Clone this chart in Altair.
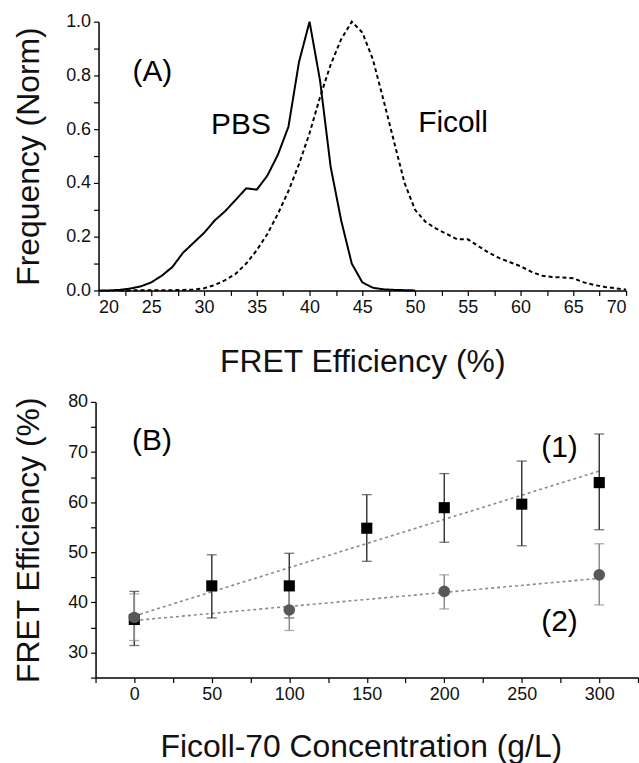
import altair as alt
import pandas as pd

FONT = "Liberation Sans"

# ---------------- Panel (A): normalised FRET histograms ----------------
eff_pbs = [20, 21, 22, 23, 24, 25, 26, 27, 28, 29, 30, 31, 32, 33, 34, 35,
           36, 37, 38, 39, 40, 41, 42, 43, 44, 45, 46, 47, 48, 49, 50]
freq_pbs = [0.0, 0.0, 0.002, 0.007, 0.015, 0.03, 0.055, 0.087, 0.14, 0.177,
            0.214, 0.26, 0.295, 0.337, 0.38, 0.375, 0.427, 0.505, 0.609, 0.85,
            1.0, 0.78, 0.46, 0.26, 0.10, 0.03, 0.01, 0.004, 0.002, 0.001, 0.0]

eff_ficoll = [22, 23, 24, 25, 26, 27, 28, 29, 30, 31, 32, 33, 34, 35, 36, 37,
              38, 39, 40, 41, 42, 43, 44, 45, 46, 47, 48, 49, 50, 51, 52, 53,
              54, 55, 56, 57, 58, 59, 60, 61, 62, 63, 64, 65, 66, 67, 68, 69, 70]
freq_ficoll = [0.0, 0.0, 0.001, 0.001, 0.001, 0.001, 0.002, 0.003, 0.008, 0.02,
               0.038, 0.062, 0.10, 0.15, 0.21, 0.285, 0.37, 0.47, 0.585, 0.72,
               0.84, 0.935, 1.0, 0.96, 0.86, 0.71, 0.555, 0.40, 0.30, 0.255,
               0.23, 0.21, 0.19, 0.19, 0.165, 0.14, 0.12, 0.105, 0.09, 0.07,
               0.055, 0.05, 0.048, 0.045, 0.03, 0.02, 0.013, 0.008, 0.003]

labels_a = ["(A)", "PBS", "Ficoll"]
labels_a_x = [25.1, 33.5, 53.6]
labels_a_y = [0.811, 0.617, 0.622]

# ---------------- Panel (B): FRET vs Ficoll concentration ----------------
conc_1 = [0, 50, 100, 150, 200, 250, 300]
fret_1 = [36.6, 43.3, 43.3, 54.8, 58.9, 59.6, 63.9]
lo_1 = [31.4, 36.9, 36.9, 48.2, 52.0, 51.3, 54.5]
hi_1 = [42.2, 49.5, 49.8, 61.5, 65.7, 68.2, 73.6]

conc_2 = [0, 100, 200, 300]
fret_2 = [37.0, 38.5, 42.2, 45.5]
lo_2 = [32.4, 34.4, 38.7, 39.5]
hi_2 = [41.7, 42.6, 45.5, 51.7]

fit_conc = [0, 300]
fit_1 = [37.3, 66.2]
fit_2 = [36.4, 44.8]

labels_b = ["(B)", "(1)", "(2)"]
labels_b_x = [11.4, 274.3, 274.3]
labels_b_y = [72.1, 70.7, 36.0]

# ---------------- build panel A ----------------
hist = pd.concat([
    pd.DataFrame({"eff": eff_pbs, "freq": freq_pbs, "s": "PBS"}),
    pd.DataFrame({"eff": eff_ficoll, "freq": freq_ficoll, "s": "Ficoll"}),
])
text_a = pd.DataFrame({"eff": labels_a_x, "freq": labels_a_y, "t": labels_a})

xa_ticks = [20 + 2.5 * i for i in range(21)]
ya_ticks = [round(0.1 * i, 1) for i in range(11)]

def xa():
    return alt.X("eff:Q",
                 scale=alt.Scale(domain=[20, 70], range=[3, 533], nice=False, zero=False),
                 axis=alt.Axis(values=xa_ticks, labelExpr="datum.value % 5 == 0 ? datum.label : ''",
                               title="FRET Efficiency (%)", titleX=268, titleY=81,
                               titleBaseline="alphabetic", titleAlign="center",
                               labelOverlap=False, grid=False))

def ya():
    return alt.Y("freq:Q",
                 scale=alt.Scale(domain=[0, 1], nice=False, zero=False),
                 axis=alt.Axis(values=ya_ticks,
                               labelExpr="round(datum.value*10) % 2 == 0 ? format(datum.value, '.1f') : ''",
                               title="Frequency (Norm)", titleX=-60, titleY=135, titleAngle=270,
                               titleBaseline="alphabetic", titleAlign="center",
                               offset=-3, labelOverlap=False, grid=False))

lines_a = alt.Chart(hist).mark_line(color="black", strokeWidth=2).encode(
    x=xa(), y=ya(),
    strokeDash=alt.StrokeDash("s:N", scale=alt.Scale(domain=["PBS", "Ficoll"], range=[[1, 0], [4, 3]]),
                              legend=None),
    detail="s:N",
)
txt_a = alt.Chart(text_a).mark_text(font=FONT, fontSize=30, color="black",
                                    align="center", baseline="middle").encode(
    x=xa(), y=ya(), text="t:N")

top = alt.layer(lines_a, txt_a).properties(width=533, height=270)

# ---------------- build panel B ----------------
s1 = pd.DataFrame({"conc": conc_1, "fret": fret_1, "lo": lo_1, "hi": hi_1})
s2 = pd.DataFrame({"conc": conc_2, "fret": fret_2, "lo": lo_2, "hi": hi_2})
fits = pd.concat([
    pd.DataFrame({"conc": fit_conc, "fret": fit_1, "s": "1"}),
    pd.DataFrame({"conc": fit_conc, "fret": fit_2, "s": "2"}),
])
text_b = pd.DataFrame({"conc": labels_b_x, "fret": labels_b_y, "t": labels_b})

xb_ticks = [-25 + 25 * i for i in range(15)]
yb_ticks = [25 + 5 * i for i in range(12)]

def xb():
    return alt.X("conc:Q",
                 scale=alt.Scale(domain=[-25, 325], nice=False, zero=False),
                 axis=alt.Axis(values=xb_ticks,
                               labelExpr="datum.value >= 0 && datum.value % 50 == 0 ? datum.label : ''",
                               title="Ficoll-70 Concentration (g/L)", titleX=266.5, titleY=79,
                               titleBaseline="alphabetic", titleAlign="center",
                               labelOverlap=False, grid=False))

def yb(field="fret"):
    return alt.Y(f"{field}:Q",
                 scale=alt.Scale(domain=[25, 80], nice=False, zero=False),
                 axis=alt.Axis(values=yb_ticks,
                               labelExpr="datum.value % 10 == 0 ? datum.label : ''",
                               title="FRET Efficiency (%)", titleX=-57, titleY=138.5, titleAngle=270,
                               titleBaseline="alphabetic", titleAlign="center",
                               labelOverlap=False, grid=False))

fit_lines = alt.Chart(fits).mark_line(color="#8a8a8a", strokeWidth=1.6, strokeDash=[3, 3]).encode(
    x=xb(), y=yb(), detail="s:N")

def errbars(df, color):
    rule = alt.Chart(df).mark_rule(color=color, strokeWidth=1.5).encode(
        x=xb(), y=yb("lo"), y2="hi:Q")
    cap_lo = alt.Chart(df).mark_tick(color=color, orient="horizontal", size=10, thickness=1.3).encode(
        x=xb(), y=yb("lo"))
    cap_hi = alt.Chart(df).mark_tick(color=color, orient="horizontal", size=10, thickness=1.3).encode(
        x=xb(), y=yb("hi"))
    return [rule, cap_lo, cap_hi]

pts_1 = alt.Chart(s1).mark_point(shape="square", filled=True, color="black", size=125, opacity=1).encode(
    x=xb(), y=yb())
pts_2 = alt.Chart(s2).mark_point(shape="circle", filled=True, color="#585858", size=135, opacity=1).encode(
    x=xb(), y=yb())
txt_b = alt.Chart(text_b).mark_text(font=FONT, fontSize=30, color="black",
                                    align="center", baseline="middle").encode(
    x=xb(), y=yb(), text="t:N")

bottom = alt.layer(
    fit_lines, *errbars(s1, "#3a3a3a"), *errbars(s2, "#8a8a8a"), pts_1, pts_2, txt_b
).properties(width=545, height=277)

chart = alt.vconcat(top, bottom, spacing=112, bounds="flush").properties(
    padding={"left": 12, "top": 11, "right": 0, "bottom": 0}
).configure(font=FONT).configure_view(stroke=None).configure_axis(
    domainColor="black", domainWidth=1.5, tickColor="black", tickWidth=1.2, tickSize=5,
    labelFont=FONT, labelFontSize=18, labelColor="#111111", labelPadding=3,
    titleFont=FONT, titleFontSize=32, titleFontWeight="normal", titleColor="#111111",
)

chart.save("out.html", embed_options={"renderer": "svg", "actions": False})
